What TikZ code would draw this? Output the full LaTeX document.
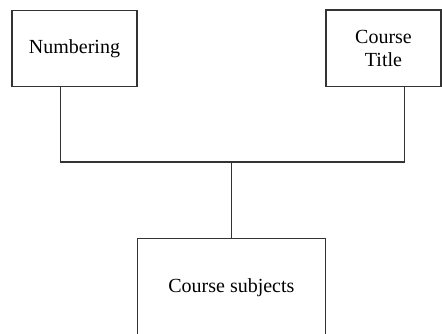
\documentclass[tikz,border=0pt]{standalone}
\usepackage{fontspec}
\setmainfont{Liberation Serif}
\usetikzlibrary{calc}
\begin{document}
\begin{tikzpicture}[x=1pt,y=-1pt,
  box/.style={draw=black!80, line width=1.1pt, inner sep=0pt, align=center,
    font=\fontsize{20}{23.5}\selectfont},
  link/.style={draw=black!80, line width=1.1pt}]
\useasboundingbox (0,0) rectangle (442,333);

% the three boxes
\node[box, minimum width=125pt, minimum height=76pt] (num) at (74.5,48.5) {Numbering};
\node[box, minimum width=115pt, minimum height=76.5pt] (title) at (383.5,48.25) {Course\\Title};
\node[box, minimum width=188.2pt, minimum height=98pt] (subj) at (231.4,287.3) {Course subjects};

% connector feet and the horizontal bus
\coordinate (numfoot) at ($(num.south west)!0.388!(num.south east)$);
\coordinate (titlefoot) at ($(title.south west)!0.678!(title.south east)$);
\coordinate (bus) at (subj.north |- 0,162);

\draw[link] (numfoot) |- (bus) -| (titlefoot);
\draw[link] (bus) -- (subj.north);
\end{tikzpicture}
\end{document}
